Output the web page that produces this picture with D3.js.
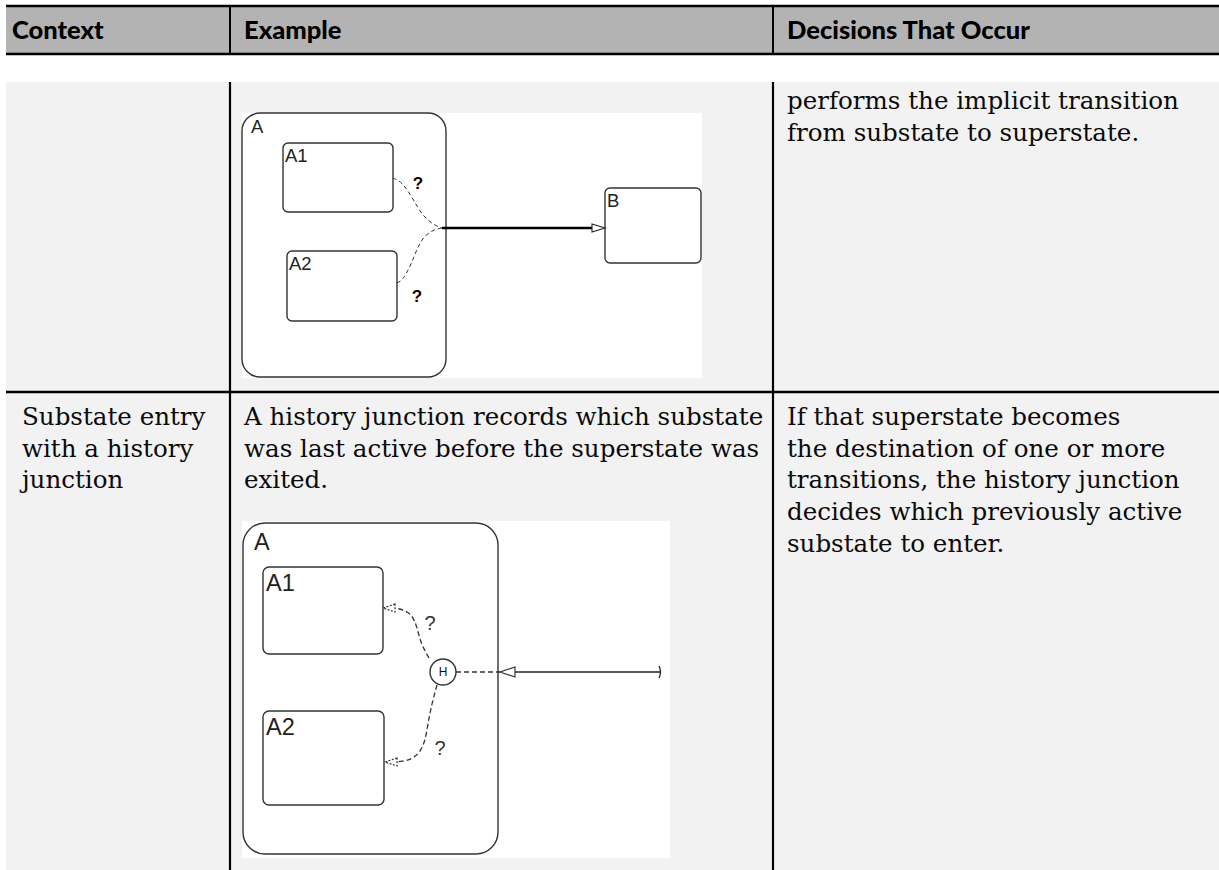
<!DOCTYPE html>
<html><head><meta charset="utf-8">
<script src="https://cdn.jsdelivr.net/npm/d3@7"></script>
<style>html,body{margin:0;padding:0;background:#fff;} svg{display:block}</style>
</head><body><svg id="c" width="1219" height="870"></svg>
<script>
// ---- data ----
const columns = ["Context", "Example", "Decisions That Occur"];
const contextLines = [[], ["Substate entry", "with a history", "junction"]];
const exampleLines = [[], ["A history junction records which substate", "was last active before the superstate was", "exited."]];
const decisionLines = [
  ["performs the implicit transition", "from substate to superstate."],
  ["If that superstate becomes", "the destination of one or more", "transitions, the history junction", "decides which previously active", "substate to enter."]
];

// diagram 1 (implicit transition superstate -> B), local units
const d1States = [
  {name: "A",  x0: 0,   y0: 0,   x1: 204, y1: 264, r: 18},
  {name: "A1", x0: 41,  y0: 30,  x1: 151, y1: 99,  r: 5},
  {name: "A2", x0: 45,  y0: 138, x1: 155, y1: 208, r: 5},
  {name: "B",  x0: 363, y0: 75,  x1: 459, y1: 150, r: 5}
];
const d1Dashed = [
  [[151, 65], [160, 69], [170, 84], [181, 104], [194, 113], [200, 115]],
  [[155, 170], [161, 167], [170, 150], [178, 127], [190, 117], [200, 115]]
];
const d1Solid = [[200, 115], [352, 115]];
const d1Arrow = {tip: [363, 115], base: 350, half: 4};
const d1Questions = [[176, 70], [175, 183]];

// diagram 2 (history junction), local units
const d2States = [
  {name: "A",  x0: 1,  y0: 2,   x1: 256, y1: 333, r: 22},
  {name: "A1", x0: 21, y0: 46,  x1: 141, y1: 133, r: 6},
  {name: "A2", x0: 21, y0: 190, x1: 142, y1: 284, r: 6}
];
const d2Junction = {label: "H", cx: 201, cy: 151, r: 13};
const d2Dashed = [
  [[187, 137], [179, 123], [175, 106], [170, 93], [158, 87], [143, 87]],
  [[195, 164], [190, 182], [186, 202], [183, 222], [175, 236], [161, 241], [145, 241]],
  [[214, 151], [258, 151]]
];
const d2Arrows = [
  {tip: [141, 87], base: 153, half: 4, dashed: true},
  {tip: [143, 241], base: 155, half: 4, dashed: true},
  {tip: [258, 151], base: 273, half: 5, dashed: false}
];
const d2Solid = [[273, 151], [418, 151]];
const d2Questions = [[188, 102], [198, 227]];

// ---- layout ----
const svg = d3.select("#c");
const W = 1219, H = 870;
const colX = [6, 230, 773, 1219];
const headerTop = 6, headerBottom = 54, bodyTop = 82, rowBreak = 392;
const headerFill = "#b3b3b3", bodyFill = "#f2f2f2";
const serif = "'DejaVu Serif', serif";
const headFont = "Lato, 'DejaVu Sans', sans-serif";
const diaFont = "'Liberation Sans', Arial, sans-serif";

function fitSize(family, weight, sample, target) {
  const t = svg.append("text").attr("font-family", family).attr("font-weight", weight)
    .attr("font-size", 20).text(sample);
  const w = t.node().getComputedTextLength();
  t.remove();
  return 20 * target / w;
}
const bodySize = fitSize(serif, "normal", decisionLines[0][0], 392);
const headSize = 25.5;

// header
svg.append("rect").attr("x", colX[0]).attr("y", headerTop).attr("width", W - colX[0])
  .attr("height", headerBottom - headerTop).attr("fill", headerFill);
svg.append("g").selectAll("line").data([headerTop, headerBottom]).join("line")
  .attr("x1", colX[0]).attr("x2", W).attr("y1", d => d).attr("y2", d => d)
  .attr("stroke", "#000").attr("stroke-width", 2.4);
svg.append("g").selectAll("line").data(colX.slice(1, 3)).join("line")
  .attr("x1", d => d).attr("x2", d => d).attr("y1", headerTop).attr("y2", headerBottom)
  .attr("stroke", "#000").attr("stroke-width", 2);
svg.append("g").selectAll("text").data(columns).join("text")
  .attr("x", (d, i) => [12, 244, 787][i]).attr("y", 39)
  .attr("font-family", headFont).attr("font-weight", 900).attr("font-size", headSize)
  .attr("fill", "#000").text(d => d);

// body
svg.append("rect").attr("x", colX[0]).attr("y", bodyTop).attr("width", W - colX[0])
  .attr("height", H - bodyTop).attr("fill", bodyFill);
svg.append("line").attr("x1", colX[0]).attr("x2", W).attr("y1", rowBreak).attr("y2", rowBreak)
  .attr("stroke", "#000").attr("stroke-width", 2.4);
svg.append("g").selectAll("line").data(colX.slice(1, 3)).join("line")
  .attr("x1", d => d).attr("x2", d => d).attr("y1", bodyTop).attr("y2", H)
  .attr("stroke", "#000").attr("stroke-width", 2.2);

// body text
const lineH = 31.7;
const rowFirstBaseline = [109, 425];
const textCols = [
  {lines: contextLines, x: 22},
  {lines: exampleLines, x: 244},
  {lines: decisionLines, x: 787}
];
textCols.forEach(col => {
  col.lines.forEach((lines, r) => {
    svg.append("g").selectAll("text").data(lines).join("text")
      .attr("x", col.x).attr("y", (d, i) => rowFirstBaseline[r] + i * lineH)
      .attr("font-family", serif).attr("font-size", bodySize).attr("fill", "#0a0a0a")
      .text(d => d);
  });
});

// ---- diagrams ----
function drawDiagram(ox, oy, w, h) {
  const g = svg.append("g");
  const x = d3.scaleLinear().domain([0, w]).range([ox, ox + w]);
  const y = d3.scaleLinear().domain([0, h]).range([oy, oy + h]);
  g.append("rect").attr("x", x(0)).attr("y", y(0)).attr("width", x(w) - x(0))
    .attr("height", y(h) - y(0)).attr("fill", "#fff");
  return {g, x, y};
}
const stateStroke = "#333";

function drawStates(D, states, fs, labelDx, labelDy, outerDx, outerDy) {
  D.g.selectAll("rect.st").data(states).join("rect").attr("class", "st")
    .attr("x", d => D.x(d.x0)).attr("y", d => D.y(d.y0))
    .attr("width", d => D.x(d.x1) - D.x(d.x0)).attr("height", d => D.y(d.y1) - D.y(d.y0))
    .attr("rx", d => d.r).attr("fill", "none").attr("stroke", stateStroke).attr("stroke-width", 1.4);
  D.g.selectAll("text.lab").data(states).join("text").attr("class", "lab")
    .attr("x", d => D.x(d.x0) + (d.name === "A" ? outerDx : labelDx))
    .attr("y", d => D.y(d.y0) + (d.name === "A" ? outerDy : labelDy))
    .attr("font-family", diaFont).attr("font-size", fs).attr("fill", "#222").text(d => d.name);
}

function arrowPath(D, a) {
  return d3.line()([[D.x(a.base), D.y(a.tip[1] - a.half)], [D.x(a.tip[0]), D.y(a.tip[1])],
    [D.x(a.base), D.y(a.tip[1] + a.half)]]) + "Z";
}

// diagram 1
const D1 = drawDiagram(242, 113, 460, 265);
drawStates(D1, d1States, 18.5, 2, 19, 9, 20);
const curve = d3.line().x(d => D1.x(d[0])).y(d => D1.y(d[1])).curve(d3.curveBasis);
D1.g.selectAll("path.dash").data(d1Dashed).join("path").attr("class", "dash")
  .attr("d", curve).attr("fill", "none").attr("stroke", "#333").attr("stroke-width", 1)
  .attr("stroke-dasharray", "4,3");
D1.g.append("path").attr("d", d3.line().x(d => D1.x(d[0])).y(d => D1.y(d[1]))(d1Solid))
  .attr("stroke", "#000").attr("stroke-width", 2.4).attr("fill", "none");
D1.g.append("path").attr("d", arrowPath(D1, d1Arrow)).attr("fill", "#fff")
  .attr("stroke", "#222").attr("stroke-width", 1.1);
D1.g.selectAll("text.q").data(d1Questions).join("text").attr("class", "q")
  .attr("x", d => D1.x(d[0])).attr("y", d => D1.y(d[1]))
  .attr("text-anchor", "middle").attr("dominant-baseline", "central")
  .attr("font-family", diaFont).attr("font-weight", "bold").attr("font-size", 17)
  .attr("fill", "#000").text("?");

// diagram 2
const D2 = drawDiagram(242, 521, 428, 337);
drawStates(D2, d2States, 23.5, 3, 24, 11, 27);
const curve2 = d3.line().x(d => D2.x(d[0])).y(d => D2.y(d[1])).curve(d3.curveBasis);
D2.g.selectAll("path.dash").data(d2Dashed).join("path").attr("class", "dash")
  .attr("d", curve2).attr("fill", "none").attr("stroke", "#333").attr("stroke-width", 1.3)
  .attr("stroke-dasharray", "5,3");
D2.g.append("path").attr("d", d3.line().x(d => D2.x(d[0])).y(d => D2.y(d[1]))(d2Solid))
  .attr("stroke", "#222").attr("stroke-width", 1.5).attr("fill", "none");
D2.g.selectAll("path.arr").data(d2Arrows).join("path").attr("class", "arr")
  .attr("d", d => arrowPath(D2, d)).attr("fill", "#fff").attr("stroke", "#333")
  .attr("stroke-width", 1.2).attr("stroke-dasharray", d => d.dashed ? "2,1.5" : null);
// source end mark
{
  const ex = D2.x(d2Solid[1][0]), ey = D2.y(d2Solid[1][1]);
  D2.g.append("path").attr("d", `M${ex - 1},${ey - 6} Q${ex + 2},${ey} ${ex - 1},${ey + 6}`)
    .attr("fill", "none").attr("stroke", "#222").attr("stroke-width", 1.3);
}
D2.g.append("circle").attr("cx", D2.x(d2Junction.cx)).attr("cy", D2.y(d2Junction.cy))
  .attr("r", d2Junction.r).attr("fill", "#fff").attr("stroke", "#333").attr("stroke-width", 1.4);
D2.g.append("text").attr("x", D2.x(d2Junction.cx)).attr("y", D2.y(d2Junction.cy))
  .attr("text-anchor", "middle").attr("dominant-baseline", "central")
  .attr("font-family", diaFont).attr("font-size", 12).attr("fill", "#111").text(d2Junction.label);
D2.g.selectAll("text.q").data(d2Questions).join("text").attr("class", "q")
  .attr("x", d => D2.x(d[0])).attr("y", d => D2.y(d[1]))
  .attr("text-anchor", "middle").attr("dominant-baseline", "central")
  .attr("font-family", diaFont).attr("font-size", 20).attr("fill", "#333").text("?");
</script></body></html>
